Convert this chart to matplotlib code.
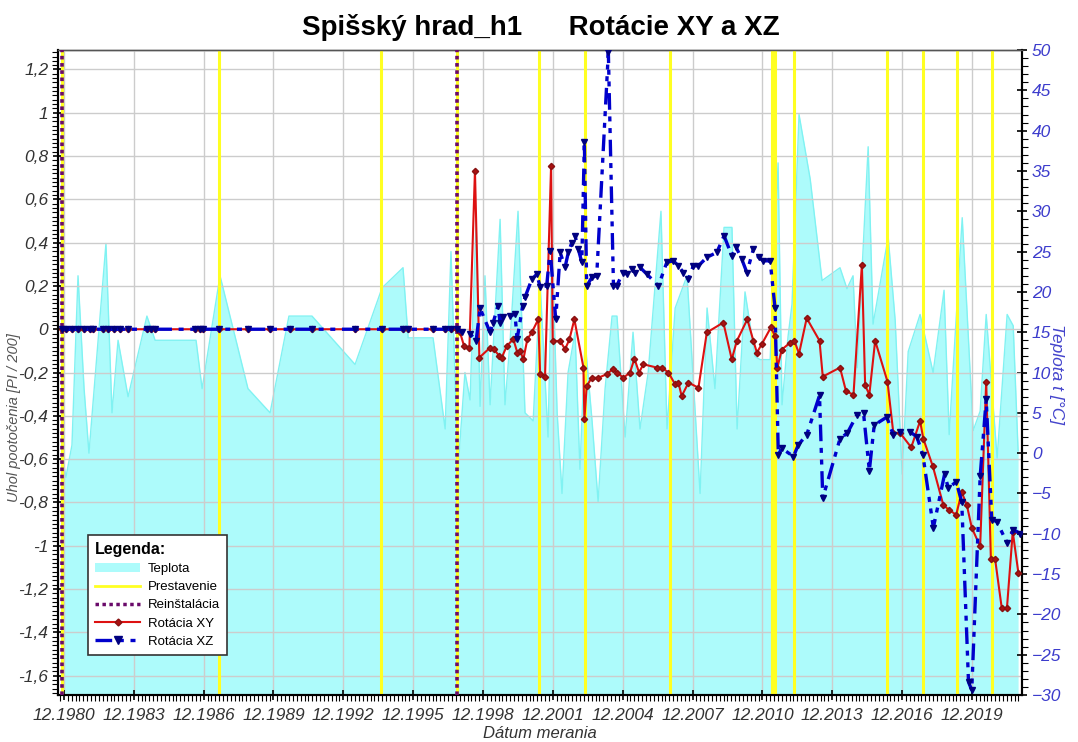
import matplotlib
matplotlib.use("Agg")
import matplotlib.pyplot as plt
import matplotlib.ticker as mticker
from matplotlib.lines import Line2D
from matplotlib.patches import Patch
import numpy as np

plt.rcParams['font.family'] = ['Liberation Sans', 'DejaVu Sans']

# dates as decimal years
zero_dates = [1980.83, 1981.00, 1981.26, 1981.52, 1981.78, 1982.03, 1982.16, 1982.59, 1982.81, 1983.07,
              1983.32, 1983.67, 1984.48, 1984.66, 1984.83, 1986.55, 1986.76, 1986.89, 1987.58, 1988.82,
              1989.77, 1990.63, 1991.57, 1993.42, 1994.58, 1995.48, 1995.70, 1996.77, 1997.29, 1997.54,
              1997.80]
zero_vals = [0, 0, 0, 0, 0, 0, 0, 0, 0, 0,
             0, 0, 0, 0, 0, 0, 0, 0, 0, 0,
             0, 0, 0, 0, 0, 0, 0, 0, 0, 0,
             0]

xy_dates = [1997.93, 1998.10, 1998.33, 1998.57, 1998.76, 1999.22, 1999.39, 1999.61, 1999.72, 1999.94,
            2000.22, 2000.39, 2000.51, 2000.65, 2000.82, 2001.01, 2001.29, 2001.37, 2001.58, 2001.84,
            2001.91, 2002.23, 2002.44, 2002.63, 2002.84, 2003.23, 2003.27, 2003.37, 2003.59, 2003.87,
            2004.23, 2004.49, 2004.66, 2004.95, 2005.23, 2005.42, 2005.62, 2005.80, 2006.38, 2006.60,
            2006.88, 2007.17, 2007.31, 2007.45, 2007.74, 2008.17, 2008.53, 2009.24, 2009.60, 2009.82,
            2010.27, 2010.53, 2010.68, 2010.89, 2011.28, 2011.46, 2011.56, 2011.75, 2012.11, 2012.29,
            2012.49, 2012.82, 2013.37, 2013.51, 2014.25, 2014.51, 2014.83, 2015.19, 2015.33, 2015.51,
            2015.76, 2016.29, 2016.54, 2016.83, 2017.31, 2017.69, 2017.83, 2018.24, 2018.69, 2018.94,
            2019.24, 2019.48, 2019.70, 2019.91, 2020.27, 2020.53, 2020.73, 2020.91, 2021.20, 2021.42,
            2021.67, 2021.91]
xy_vals = [-0.015, -0.077, -0.085, 0.733, -0.131, -0.085, -0.093, -0.123, -0.131, -0.077,
           -0.046, -0.108, -0.100, -0.139, -0.046, -0.015, 0.046, -0.208, -0.219, 0.756,
           -0.054, -0.054, -0.093, -0.046, 0.046, -0.177, -0.417, -0.262, -0.224, -0.224,
           -0.208, -0.185, -0.200, -0.224, -0.200, -0.136, -0.200, -0.162, -0.177, -0.177,
           -0.200, -0.255, -0.247, -0.309, -0.247, -0.270, -0.015, 0.031, -0.139, -0.054,
           0.046, -0.054, -0.108, -0.069, 0.008, -0.031, -0.177, -0.094, -0.062, -0.053,
           -0.113, 0.051, -0.053, -0.219, -0.177, -0.287, -0.302, 0.298, -0.259, -0.302,
           -0.053, -0.242, -0.479, -0.479, -0.546, -0.424, -0.506, -0.634, -0.813, -0.835,
           -0.857, -0.753, -0.813, -0.917, -1.003, -0.242, -1.060, -1.060, -1.290, -1.290,
           -0.936, -1.124]

xz_dates = [1998.00, 1998.36, 1998.62, 1998.79, 1999.22, 1999.35, 1999.56, 1999.65, 1999.78, 2000.08,
            2000.29, 2000.38, 2000.62, 2000.72, 2001.01, 2001.23, 2001.37, 2001.65, 2001.80, 2002.04,
            2002.23, 2002.44, 2002.58, 2002.73, 2002.87, 2003.01, 2003.16, 2003.27, 2003.37, 2003.59,
            2003.80, 2004.30, 2004.52, 2004.66, 2004.92, 2005.09, 2005.31, 2005.45, 2005.66, 2005.95,
            2006.45, 2006.81, 2007.09, 2007.31, 2007.52, 2007.74, 2007.95, 2008.17, 2008.53, 2008.96,
            2009.27, 2009.60, 2009.79, 2010.03, 2010.25, 2010.53, 2010.75, 2010.96, 2011.25, 2011.46,
            2011.60, 2011.75, 2012.25, 2012.46, 2012.82, 2013.37, 2013.51, 2014.25, 2014.57, 2014.97,
            2015.26, 2015.51, 2015.72, 2016.26, 2016.54, 2016.83, 2017.26, 2017.55, 2017.81, 2018.26,
            2018.74, 2018.91, 2019.24, 2019.48, 2019.77, 2019.91, 2020.27, 2020.53, 2020.77, 2020.99,
            2021.42, 2021.70, 2021.99]
xz_vals = [-0.015, -0.020, -0.054, 0.097, -0.014, 0.030, 0.108, 0.030, 0.055, 0.060,
           0.070, -0.046, 0.108, 0.148, 0.230, 0.255, 0.194, 0.200, 0.362, 0.046,
           0.355, 0.286, 0.355, 0.400, 0.432, 0.370, 0.309, 0.864, 0.200, 0.239,
           0.247, 1.280, 0.200, 0.200, 0.262, 0.255, 0.278, 0.262, 0.286, 0.255,
           0.200, 0.309, 0.316, 0.293, 0.262, 0.231, 0.293, 0.293, 0.332, 0.355,
           0.432, 0.340, 0.378, 0.324, 0.262, 0.370, 0.332, 0.316, 0.316, 0.097,
           -0.580, -0.550, -0.588, -0.534, -0.488, -0.306, -0.780, -0.506, -0.479, -0.397,
           -0.387, -0.653, -0.443, -0.406, -0.488, -0.474, -0.474, -0.497, -0.580, -0.917,
           -0.671, -0.735, -0.704, -0.799, -1.630, -1.667, -0.680, -0.324, -0.880, -0.889,
           -0.986, -0.926, -0.944]

temp_dates = [1980.83, 1981.00, 1981.26, 1981.52, 1981.78, 1981.99, 1982.72, 1982.98, 1983.24, 1983.67,
              1984.48, 1984.83, 1986.59, 1986.85, 1987.62, 1988.82, 1989.77, 1990.58, 1991.57, 1993.42,
              1994.58, 1995.48, 1995.70, 1996.77, 1997.29, 1997.54, 1997.84, 1998.14, 1998.36, 1998.62,
              1998.79, 1999.00, 1999.22, 1999.65, 1999.86, 2000.08, 2000.42, 2000.72, 2001.07, 2001.37,
              2001.71, 2001.88, 2002.10, 2002.31, 2002.57, 2002.87, 2003.08, 2003.30, 2003.60, 2003.86,
              2004.16, 2004.46, 2004.67, 2005.02, 2005.36, 2005.66, 2006.01, 2006.56, 2006.82, 2007.17,
              2007.68, 2008.24, 2008.54, 2008.88, 2009.27, 2009.61, 2009.83, 2010.17, 2010.60, 2010.82,
              2011.25, 2011.59, 2011.76, 2012.02, 2012.19, 2012.49, 2012.97, 2013.48, 2014.25, 2014.55,
              2014.81, 2014.99, 2015.46, 2015.67, 2016.32, 2016.62, 2016.92, 2017.18, 2017.69, 2018.25,
              2018.72, 2018.94, 2019.50, 2019.97, 2020.27, 2020.53, 2021.00, 2021.43, 2021.69, 2021.90]
temp_vals = [0, -3, 1, 22, 8, 0, 26, 5, 14, 7,
             17, 14, 14, 8, 22, 8, 5, 17, 17, 11,
             20.5, 23, 14.3, 14.3, 3, 25, -2, 10, 6.6, 29,
             5.8, 22, 6, 29, 6, 14, 30, 5, 4, 21,
             2, 26, 5, -5, 10, 15, -2, 14, 4, -6,
             8, 17, 17, 2, 15, 3, 10, 30, 3, 18,
             22, -5, 18, 8, 28, 28, 3, 20, 12, 11.6,
             11.6, 36, 6, 14.5, 18.5, 42, 34, 21.4, 23, 20.4,
             22, 10.6, 38, 16, 26.8, 16.5, -2.6, 12.6, 17.2, 10,
             20.2, 2.3, 29.2, 2.8, 5.2, 17.2, -0.6, 17.2, 15.8, 0.3]

prestavenie = [1980.83, 1987.58, 1994.53, 1997.80, 2001.32, 2003.30, 2006.95, 2011.32, 2011.44,
               2012.27, 2016.27, 2017.82, 2019.26, 2020.77]
reinstalacia = [1980.83, 1997.80]

XZ_DASH = (0, (5, 2, 1.5, 2, 1.5, 2))

fig = plt.figure(figsize=(10.78, 7.42), dpi=100)
ax1 = fig.add_axes([0.0538, 0.0633, 0.8943, 0.8693])
ax2 = ax1.twinx()
ax1.set_zorder(ax2.get_zorder() + 1)
ax1.patch.set_visible(False)

# temperature
ax2.fill_between(temp_dates, -30, temp_vals, color='#adfbfb', lw=0)
ax2.plot(temp_dates, temp_vals, color='#80f2f2', lw=1)
ax2.set_ylim(-30, 50)

# events
for d in prestavenie:
    ax1.axvline(d, color='#ffff22', lw=2.2, zorder=2)
for d in reinstalacia:
    ax1.axvline(d, color='#6a0a6a', lw=2.6, ls=(0, (1, 1)), zorder=3)

ax1.plot(zero_dates + xy_dates, zero_vals + xy_vals, color='#dd1111', lw=1.5, marker='D', ms=3.2,
         mfc='#aa1111', mec='#881111', zorder=4)
ax1.plot(zero_dates + xz_dates, zero_vals + xz_vals, color='#0000cc', lw=2.4, ls=XZ_DASH,
         marker='v', ms=5, mfc='#000080', mec='#000080', zorder=5)

ax1.set_xlim(1980.66, 2022.07)
ax1.set_ylim(-1.69, 1.29)

major_x = np.arange(1980, 2020, 3) + 11 / 12
ax1.xaxis.set_major_locator(mticker.FixedLocator(major_x))
ax1.xaxis.set_minor_locator(mticker.FixedLocator(np.arange(1978 + 11 / 12, 2022.1, 1 / 6)))
ax1.xaxis.set_major_formatter(mticker.FuncFormatter(lambda v, p: "12.%d" % round(v - 11 / 12)))

ax1.yaxis.set_major_locator(mticker.MultipleLocator(0.2))
ax1.yaxis.set_minor_locator(mticker.MultipleLocator(0.02))


def comma_fmt(v, p):
    s = ("%.1f" % v).rstrip('0').rstrip('.')
    if s in ("-0", ""):
        s = "0"
    return s.replace('.', ',')


ax1.yaxis.set_major_formatter(mticker.FuncFormatter(comma_fmt))
ax2.yaxis.set_major_locator(mticker.MultipleLocator(5))
ax2.yaxis.set_minor_locator(mticker.MultipleLocator(1))

ax1.grid(True, which='major', color='#cccccc', lw=1)

ax1.tick_params(axis='both', which='major', labelsize=12.5, length=7, width=1.2, direction='inout')
ax1.tick_params(axis='both', which='minor', length=4, width=0.8, direction='out')
ax1.tick_params(axis='y', labelcolor='#333333')
ax1.tick_params(axis='x', labelcolor='#333333', pad=6)
ax2.tick_params(axis='y', which='major', labelsize=12.5, length=7, width=1.2, direction='inout',
                labelcolor='#3c3ccc')
ax2.tick_params(axis='y', which='minor', length=4, width=0.8, direction='out')

for lbl in ax1.get_xticklabels() + ax1.get_yticklabels() + ax2.get_yticklabels():
    lbl.set_fontstyle('italic')

for ax in (ax1, ax2):
    for side in ('left', 'bottom', 'right'):
        ax.spines[side].set_linewidth(1.5)
    ax.spines['top'].set_linewidth(1.0)
    ax.spines['top'].set_color('#555555')

ax1.set_xlabel('Dátum merania', fontsize=12, style='italic', color='#333333', labelpad=2)
ax1.set_ylabel('Uhol pootočenia [PI / 200]', fontsize=10.5, style='italic', color='#555555')
ax1.yaxis.set_label_coords(-0.038, 0.43)
ax2.set_ylabel('Teplota t [°C]', fontsize=12.5, style='italic', color='#4444cc', rotation=270,
               labelpad=14)
ax2.yaxis.set_label_coords(1.044, 0.498)

fig.text(0.502, 0.963, 'Spišský hrad_h1      Rotácie XY a XZ', ha='center', va='center',
         fontsize=20, fontweight='bold')

handles = [
    Patch(facecolor='#adfbfb', edgecolor='none', label='Teplota'),
    Line2D([], [], color='#ffff22', lw=2, label='Prestavenie'),
    Line2D([], [], color='#6a0a6a', lw=2.5, ls=(0, (1, 1)), label='Reinštalácia'),
    Line2D([], [], color='#dd1111', lw=1.5, marker='D', ms=3.5, mfc='#aa1111', mec='#881111',
           label='Rotácia XY'),
    Line2D([], [], color='#0000cc', lw=2.4, ls=XZ_DASH, marker='v', ms=6, mfc='#000080',
           mec='#000080', label='Rotácia XZ'),
]
leg = ax1.legend(handles=handles, loc='lower left', bbox_to_anchor=(0.031, 0.062), title='Legenda:',
                 title_fontproperties={'weight': 'bold', 'size': 11.5}, fontsize=9.5, numpoints=1,
                 fancybox=False, framealpha=1, edgecolor='#333333', alignment='left',
                 handlelength=3.4, borderpad=0.55, labelspacing=0.45, handletextpad=0.6,
                 borderaxespad=0)
leg.get_frame().set_linewidth(1.2)
leg.set_zorder(10)

fig.savefig('out.png', dpi=100)
